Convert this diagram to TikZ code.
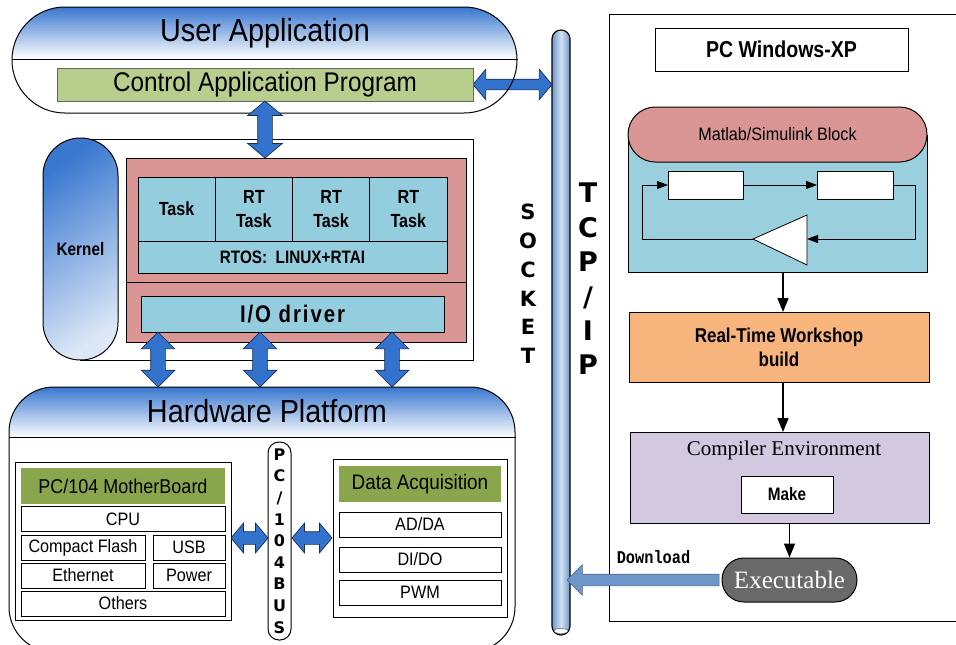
\documentclass[tikz,border=0pt]{standalone}
\usepackage{fontspec}
\setmainfont{Liberation Sans}
\newfontfamily\uisans{Liberation Sans}[FakeStretch=0.9]
\newfontfamily\uibold{Liberation Sans}[FakeStretch=0.85]
\newfontfamily\uiserif{Liberation Serif}
\newfontfamily\uiletter{DejaVu Sans}
\newfontfamily\uimono{Liberation Mono}[FakeStretch=0.85]
\usetikzlibrary{calc}
\usetikzlibrary{positioning}
\usetikzlibrary{arrows.meta}
\usetikzlibrary{shapes.arrows}
\newcommand{\fsz}[2]{\fontsize{#1}{#2}\selectfont}

\definecolor{uablue}{RGB}{58,120,208}
\definecolor{arrblue}{RGB}{52,115,205}
\definecolor{capgreen}{RGB}{184,206,140}
\definecolor{olive}{RGB}{138,166,76}
\definecolor{rosered}{RGB}{217,150,148}
\definecolor{taskcyan}{RGB}{148,205,221}
\definecolor{simcyan}{RGB}{154,208,222}
\definecolor{rtworange}{RGB}{248,180,125}
\definecolor{lavender}{RGB}{210,201,224}
\definecolor{exegray}{RGB}{105,105,105}
\definecolor{dlblue}{RGB}{110,150,200}
\definecolor{pipedark}{RGB}{112,150,200}
\definecolor{pipelight}{RGB}{210,226,242}

\tikzset{
  box/.style={draw, line width=0.8pt, inner sep=0pt, outer sep=0pt},
  capsule/.style={draw, line width=1pt, rounded corners=#1},
  taskcell/.style={box, fill=taskcyan, minimum width=77.25pt, minimum height=64pt, align=center, font=\uibold\bfseries\fsz{19}{24}},
  hwcell/.style={box, fill=white, minimum height=25pt, font=\uisans\fsz{18}{20}},
  hwhead/.style={box, draw=none, fill=olive, minimum height=36pt, font=\uisans\fsz{20}{22}},
  barrow/.style={double arrow, draw=black!60!arrblue, fill=arrblue, line width=0.7pt, inner xsep=0pt, double arrow head indent=0pt},
  sig/.style={-{Triangle[length=11pt,width=8pt]}, line width=0.8pt},
  flow/.style={-{Triangle[length=14pt,width=11pt]}, line width=1.5pt}
}

\begin{document}
\begin{tikzpicture}[x=1pt,y=-1pt]
\useasboundingbox (0,0) rectangle (956,645);

\node[draw, line width=1pt, minimum width=360pt, minimum height=607pt] (pcframe) at (789,317.5) {};
\node[draw, line width=1.2pt, rounded corners=8.9pt, minimum width=18pt, minimum height=605pt, left color=pipedark, right color=pipedark, middle color=pipelight] (pipe) at (561,332.5) {};
\draw[fill=white, draw=black!70] (561,631) ellipse (7 and 2.5);
\node[font=\uiletter\bfseries\fsz{21}{28.8}, align=center] (socket) at (528,284) {S\\O\\C\\K\\E\\T};
\node[font=\uiletter\bfseries\fsz{27}{34.4}, align=center] (tcpip) at (588,279) {T\\C\\P\\/\\I\\P};

\node[barrow, minimum height=79pt, inner ysep=5pt, double arrow head extend=10pt, double arrow tip angle=100] (uaarr) at (512.5,84.5) {};
\begin{scope}
\clip[rounded corners=52.9pt] (12,7) rectangle (517,113);
\foreach \k in {0,...,25} {
  \pgfmathsetmacro\pct{100-3.9*\k}
  \fill[uablue!\pct!white] (12,{7+2*\k}) rectangle (517,{9.3+2*\k});
}
\end{scope}
\node[capsule=52.9pt, minimum width=505pt, minimum height=106pt] (uacap) at (264.5,60) {};
\draw[line width=1pt] (uacap.west |- 0,59) -- (uacap.east |- 0,59);
\node[font=\uisans\fsz{32}{36}] (uatitle) at (265,33) {User Application};
\node[box, draw=black!60, fill=capgreen, minimum width=416pt, minimum height=33pt, font=\uisans\fsz{27}{30}] (capp) at (265,84.5) {Control Application Program};

\node[draw, line width=1pt, minimum width=393pt, minimum height=221pt] (kframe) at (276.5,249.5) {};
\node[draw, line width=1pt, rounded corners=37.4pt, minimum width=75pt, minimum height=222pt, top color=uablue, bottom color=uablue!18, shading angle=35, font=\uibold\bfseries\fsz{18}{20}] (kernel) at (80.5,249) {Kernel};
\node[box, line width=1pt, fill=rosered, minimum width=340pt, minimum height=184pt] (rtbox) at (296,250) {};
\draw[line width=1pt] (rtbox.west |- 0,282) -- (rtbox.east |- 0,282);
\node[taskcell] (task1) at (176.625,209) {Task};
\node[taskcell, right=0pt of task1] (task2) {RT\\Task};
\node[taskcell, right=0pt of task2] (task3) {RT\\Task};
\node[taskcell, right=0pt of task3] (task4) {RT\\Task};
\node[box, fill=taskcyan, minimum width=309pt, minimum height=32pt, font=\uibold\bfseries\fsz{18}{20}] (rtos) at (292.5,257) {RTOS:\ \ LINUX+RTAI};
\node[box, fill=taskcyan, minimum width=303pt, minimum height=36pt, font=\uibold\bfseries\fsz{24}{26}\addfontfeature{LetterSpace=8}] (iodrv) at (292.5,314) {I/O driver};
\node[barrow, rotate=90, minimum height=57pt, inner ysep=7pt, double arrow head extend=10pt, double arrow tip angle=100] (uavarr) at ($(capp.south)!0.5!(capp.south |- rtbox.north)$) {};
\foreach \ax [count=\i] in {158,260,392}
  \node[barrow, rotate=90, minimum height=55pt, inner ysep=7pt, double arrow head extend=9.5pt] (ioarr\i) at (\ax,359.5) {};

\begin{scope}
\clip[rounded corners=45pt] (9,387) rectangle (515,652);
\foreach \k in {0,...,24} {
  \pgfmathsetmacro\pct{100-4*\k}
  \fill[uablue!\pct!white] (9,{387+2*\k}) rectangle (515,{389.3+2*\k});
}
\end{scope}
\node[capsule=45pt, minimum width=506pt, minimum height=265pt] (hwcap) at (262,519.5) {};
\draw[line width=1pt] (hwcap.west |- 0,437) -- (hwcap.east |- 0,437);
\node[font=\uisans\fsz{32}{36}] (hwtitle) at (267,411) {Hardware Platform};

\node[box, minimum width=216pt, minimum height=158pt] (mobo) at (123,541) {};
\node[hwhead, minimum width=204pt] (mbhead) at (123,486) {PC/104 MotherBoard};
\node[hwcell, minimum width=204pt] (cpu) at (123,519) {CPU};
\node[hwcell, minimum width=124pt] (cflash) at (83,547.5) {Compact Flash};
\node[hwcell, minimum width=72pt] (usb) at (189,547.5) {USB};
\node[hwcell, minimum width=124pt] (eth) at (83,575.5) {Ethernet};
\node[hwcell, minimum width=72pt] (power) at (189,575.5) {Power};
\node[hwcell, minimum width=204pt] (others) at (123,603.5) {Others};

\node[draw, line width=1pt, rounded corners=11pt, fill=white, minimum width=23pt, minimum height=198pt] (bus) at (279.5,541) {};
\node[font=\uiletter\bfseries\fsz{16}{21.6}, align=center] (buslbl) at (bus) {P\\C\\/\\1\\0\\4\\B\\U\\S};

\node[box, minimum width=174pt, minimum height=158pt] (daq) at (420,538) {};
\node[hwhead, minimum width=162pt, font=\uisans\fsz{21}{24}] (daqhead) at (420,484) {Data Acquisition};
\node[hwcell, minimum width=162pt] (adda) at (420,524.5) {AD/DA};
\node[hwcell, minimum width=162pt] (dido) at (420,559.5) {DI/DO};
\node[hwcell, minimum width=162pt] (pwm) at (420,592.5) {PWM};

\node[barrow, minimum height=37pt, inner ysep=6pt, double arrow head extend=8.5pt, double arrow tip angle=100] (mbarr) at (249.5,538) {};
\node[barrow, minimum height=40pt, inner ysep=6pt, double arrow head extend=8.5pt, double arrow tip angle=100] (daqarr) at (312,538) {};

\node[box, line width=1pt, fill=white, minimum width=253pt, minimum height=43pt, font=\uibold\bfseries\fsz{23}{26}] (pcwin) at (781.5,49.5) {PC Windows-XP};

\node[box, line width=1pt, fill=simcyan, minimum width=299pt, minimum height=137pt] (simbox) at (777.5,203.5) {};
\node[draw, line width=1pt, fill=rosered, rounded corners=27.4pt, minimum width=299pt, minimum height=55pt, font=\uisans\fsz{18}{20}] (simcap) at (777.5,134.5) {Matlab/Simulink Block};
\node[box, fill=white, minimum width=75pt, minimum height=28pt] (blk1) at (705.5,185) {};
\node[box, fill=white, minimum width=76pt, minimum height=28pt] (blk2) at (855,185) {};
\coordinate (gin) at (807,239);
\coordinate (gout) at (753,239);
\draw[sig] (blk1) -- (blk2);
\draw[sig] (blk2.east) -- ++(22,0) |- (gin);
\draw[sig] (gout) -- ++(-111,0) |- (blk1.west);
\draw[line width=0.8pt, fill=white] (gout) -- (807,215) -- (807,265) -- cycle;

\node[box, line width=1pt, fill=rtworange, minimum width=300pt, minimum height=70pt, align=center, font=\uibold\bfseries\fsz{20}{24}] (rtw) at (779,347) {Real-Time Workshop\\build};
\node[box, line width=1pt, fill=lavender, minimum width=299pt, minimum height=91pt] (comp) at (779.5,477.5) {};
\node[font=\uiserif\fsz{21}{24}] (comptitle) at (784,450) {Compiler Environment};
\node[box, line width=1pt, fill=white, minimum width=92pt, minimum height=37pt, font=\uibold\bfseries\fsz{18}{20}] (make) at (787,494.5) {Make};

\node[single arrow, draw=dlblue!70!black, fill=dlblue, line width=0.6pt, rotate=180, minimum height=152pt, inner xsep=0pt, inner ysep=5.5pt, single arrow head extend=9.5pt, single arrow head indent=0pt] (dlarr) at (646,580) {};
\node[draw, line width=1pt, fill=exegray, rounded corners=21.9pt, minimum width=135pt, minimum height=44pt, text=white, font=\uiserif\fsz{25}{28}] (exe) at (789.5,580) {Executable};
\node[font=\uimono\bfseries\fsz{18}{20}] (dltext) at (653.5,557) {Download};

\draw[flow] ([xshift=5.5pt]simbox.south) -- ([xshift=4pt]rtw.north);
\draw[flow] ([xshift=4pt]rtw.south) -- ([xshift=3.5pt]comp.north);
\draw[flow] ([xshift=10pt]comp.south) -- (exe.north);
\end{tikzpicture}
\end{document}
